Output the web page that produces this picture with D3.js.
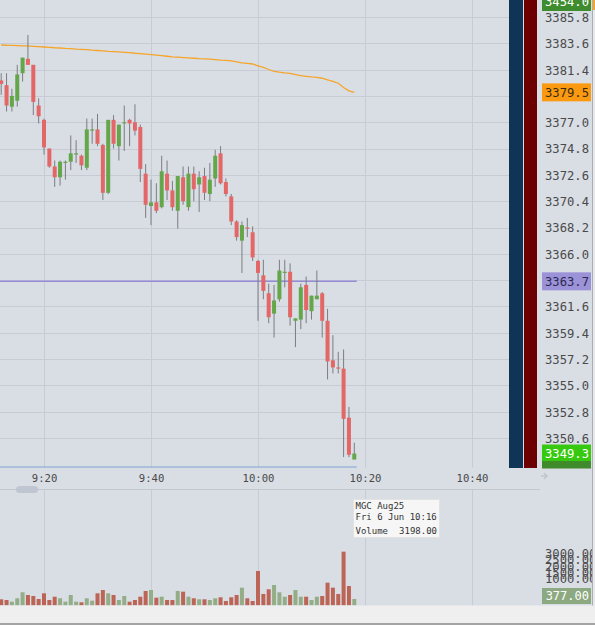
<!DOCTYPE html>
<html><head><meta charset="utf-8">
<script src="https://cdn.jsdelivr.net/npm/d3@7/dist/d3.min.js"></script>
<style>
html,body{margin:0;padding:0;background:#d9dde4;overflow:hidden}
svg{display:block}
text{font-family:"DejaVu Sans Mono",monospace}
</style></head><body>
<svg id="c" width="595" height="625"></svg>
<script>
// ---------- data ----------
const times = ["09:12","09:13","09:14","09:15","09:16","09:17","09:18","09:19","09:20","09:21",
"09:22","09:23","09:24","09:25","09:26","09:27","09:28","09:29","09:30","09:31",
"09:32","09:33","09:34","09:35","09:36","09:37","09:38","09:39","09:40","09:41",
"09:42","09:43","09:44","09:45","09:46","09:47","09:48","09:49","09:50","09:51",
"09:52","09:53","09:54","09:55","09:56","09:57","09:58","09:59","10:00","10:01",
"10:02","10:03","10:04","10:05","10:06","10:07","10:08","10:09","10:10","10:11",
"10:12","10:13","10:14","10:15","10:16","10:17","10:18"];
const open = [3380.5,3380.1,3378.3,3378.8,3381.1,3382.3,3381.8,3378.4,3377.2,3374.8,
3373.3,3372.4,3373.6,3373.7,3374.4,3374.2,3373.2,3376.4,3376.4,3375.1,
3371.1,3377.2,3375.0,3376.9,3377.2,3377.0,3376.6,3372.7,3370.0,3370.3,
3369.9,3372.7,3371.3,3369.6,3372.4,3369.9,3372.7,3371.8,3372.5,3371.0,
3372.3,3374.4,3372.0,3370.8,3368.7,3367.1,3368.2,3367.8,3365.4,3364.2,
3362.7,3361.0,3362.2,3364.5,3364.5,3360.4,3360.5,3363.4,3361.2,3362.2,
3362.7,3360.4,3357.1,3356.5,3356.4,3352.3,3348.8];
const high = [3381.1,3381.1,3379.8,3381.8,3382.4,3384.3,3381.8,3379.0,3377.3,3374.8,
3373.8,3373.8,3373.8,3375.9,3375.5,3374.3,3377.3,3377.3,3377.7,3375.2,
3377.2,3377.6,3376.8,3378.4,3377.3,3378.5,3376.8,3373.5,3372.2,3371.9,
3374.2,3373.8,3372.1,3372.5,3373.3,3373.3,3373.3,3372.9,3373.2,3373.6,
3374.7,3375.0,3372.3,3371.0,3368.8,3368.7,3369.0,3368.3,3365.5,3365.5,
3363.5,3363.4,3365.5,3365.5,3365.2,3360.6,3363.5,3364.1,3362.5,3364.6,
3362.8,3361.4,3359.2,3357.8,3358.0,3353.2,3350.2];
const low = [3379.3,3377.9,3377.9,3378.3,3380.4,3381.8,3377.6,3376.9,3374.3,3373.2,
3371.6,3371.7,3372.2,3373.0,3373.6,3373.0,3373.0,3375.2,3375.0,3370.5,
3371.0,3374.8,3373.8,3374.6,3375.0,3375.9,3372.0,3369.0,3368.4,3369.4,
3369.8,3370.5,3369.6,3368.1,3370.1,3369.6,3370.4,3369.5,3370.5,3370.4,
3371.6,3371.8,3370.8,3368.4,3367.1,3364.4,3367.4,3365.4,3360.4,3362.2,
3360.2,3359.0,3362.0,3363.2,3360.0,3358.2,3359.7,3360.2,3360.5,3362.2,
3359.0,3355.5,3356.0,3356.0,3349.0,3349.0,3348.8];
const close = [3380.2,3378.4,3379.2,3381.0,3382.4,3381.8,3378.7,3377.5,3374.9,3373.3,
3372.4,3373.7,3373.7,3374.4,3374.4,3373.4,3376.4,3376.4,3375.2,3371.1,
3377.2,3375.2,3376.8,3377.0,3376.9,3376.3,3373.1,3370.1,3370.3,3369.6,
3372.9,3371.3,3369.9,3372.5,3370.4,3372.7,3371.4,3372.4,3371.1,3372.2,
3374.2,3371.9,3371.0,3368.7,3367.4,3368.4,3368.1,3365.7,3364.4,3362.9,
3360.7,3362.1,3364.6,3364.5,3360.7,3360.6,3363.2,3361.3,3362.5,3362.5,
3360.4,3357.0,3356.5,3356.4,3352.2,3349.2,3349.3];
const volume = [358,316,215,418,776,615,555,376,716,316,
513,418,215,615,215,179,418,275,716,913,
716,615,316,555,215,316,513,854,913,454,
513,316,316,854,812,513,418,358,358,316,
418,478,257,478,615,1051,418,257,2048,675,
955,1212,776,513,615,913,513,513,316,513,
555,1349,1051,675,3198,1152,377];
const vwap = [3383.46,3383.44,3383.43,3383.41,3383.39,3383.38,3383.35,3383.32,3383.29,3383.26,
3383.23,3383.21,3383.18,3383.16,3383.12,3383.10,3383.07,3383.03,3383.00,3382.97,
3382.93,3382.91,3382.88,3382.85,3382.82,3382.77,3382.74,3382.70,3382.66,3382.61,
3382.57,3382.52,3382.47,3382.44,3382.41,3382.38,3382.35,3382.32,3382.30,3382.27,
3382.24,3382.20,3382.17,3382.14,3382.05,3381.97,3381.92,3381.87,3381.72,3381.58,
3381.41,3381.26,3381.19,3381.13,3381.09,3380.99,3380.89,3380.84,3380.79,3380.75,
3380.68,3380.55,3380.42,3380.26,3379.91,3379.63,3379.50];
const priceTicks = [3385.8,3383.6,3381.4,3379.2,3377.0,3374.8,3372.6,3370.4,3368.2,3366.0,
3363.8,3361.6,3359.4,3357.2,3355.0,3352.8,3350.6];
const timeTicks = ["09:20","09:40","10:00","10:20","10:40"];
const volumeTicks = [3000,2500,2000,1500,1000];
const levelLine = 3363.7;       // horizontal purple level
const topLabel = 3454.0;        // off-scale label pinned at top
const bidLabel = 3349.1;        // partially hidden label under last price
const instrument = "MGC Aug25";
const tooltipIndex = 64;

// ---------- helpers ----------
const day = "2025-06-06T";
const parse = d3.timeParse("%Y-%m-%dT%H:%M");
const T = s => parse(day + s);
const data = times.map((t,i)=>({t:T(t),o:open[i],h:high[i],l:low[i],c:close[i],v:volume[i],w:vwap[i]}));

const svg = d3.select("#c");
const W = 595, H = 625;
const plotRight = 509, mainBottom = 467.5, volTop = 489.5, volBottom = 605.3;

const x = d3.scaleTime().domain([T("09:20"), T("10:40")]).range([44, 472]);
const y = d3.scaleLinear().domain([3350.6, 3385.8]).range([438, 17]);
const yv = d3.scaleLinear().domain([0, 3198]).range([volBottom, 551.7]);
const yvAxis = d3.scaleLinear().domain([1000, 3000]).range([579, 553.3]);

const BG = "#d9dde4", GRID = "#c6cbd6";
const UP = "#64a64a", DOWN = "#e46767", WICK = "#7b7d80";
const VUP = "#93ae87", VDOWN = "#bc6556";

svg.append("rect").attr("width",W).attr("height",H).attr("fill",BG);

// ---------- grid ----------
const grid = svg.append("g");
grid.selectAll("line.h").data(priceTicks).join("line")
  .attr("x1",0).attr("x2",plotRight)
  .attr("y1",d=>Math.round(y(d))+0.5).attr("y2",d=>Math.round(y(d))+0.5)
  .attr("stroke",GRID).attr("stroke-width",1);
const tt = timeTicks.map(T);
grid.selectAll("line.v1").data(tt).join("line")
  .attr("x1",d=>Math.round(x(d))+0.5).attr("x2",d=>Math.round(x(d))+0.5)
  .attr("y1",0).attr("y2",mainBottom).attr("stroke",GRID);
grid.selectAll("line.v2").data(tt).join("line")
  .attr("x1",d=>Math.round(x(d))+0.5).attr("x2",d=>Math.round(x(d))+0.5)
  .attr("y1",volTop).attr("y2",volBottom).attr("stroke",GRID);

// ---------- time axis ----------
const xAxis = d3.axisBottom(x).tickValues(tt).tickFormat(d3.timeFormat("%-H:%M")).tickSize(0).tickPadding(0);
const xg = svg.append("g").attr("transform","translate(0,474)").call(xAxis);
xg.select(".domain").remove();
xg.selectAll("text").attr("font-family","DejaVu Sans Mono").attr("font-size","10.6px")
  .attr("fill","#4a4a4a").attr("dy","0.71em");
svg.append("line").attr("x1",0).attr("x2",540).attr("y1",volTop).attr("y2",volTop)
  .attr("stroke","#c2c7d1");
svg.append("rect").attr("x",16).attr("y",486).attr("width",22).attr("height",7).attr("rx",3.5)
  .attr("fill","#bfc6d2");
// arrow
svg.append("path").attr("d","M541,476 H547 M544,473 L547,476 L544,479")
  .attr("stroke","#c0c5ce").attr("stroke-width",1.6).attr("fill","none");

// ---------- main plot ----------
const lastX = x(data[data.length-1].t) + 2.5;
svg.append("line").attr("x1",0).attr("x2",lastX).attr("y1",y(levelLine)).attr("y2",y(levelLine))
  .attr("stroke","#968cd4").attr("stroke-width",1.5);
svg.append("path").datum(data)
  .attr("d", d3.line().x(d=>x(d.t)).y(d=>y(d.w)))
  .attr("fill","none").attr("stroke","#f5a52a").attr("stroke-width",1.3);

const bw = 4;
const cg = svg.append("g");
cg.selectAll("line.wick").data(data).join("line")
  .attr("x1",d=>x(d.t)).attr("x2",d=>x(d.t))
  .attr("y1",d=>y(d.h)).attr("y2",d=>y(d.l))
  .attr("stroke",WICK).attr("stroke-width",1);
cg.selectAll("rect.body").data(data).join("rect")
  .attr("x",d=>x(d.t)-bw/2).attr("width",bw)
  .attr("y",d=>y(Math.max(d.o,d.c)))
  .attr("height",d=>Math.max(1.2, Math.abs(y(d.o)-y(d.c))))
  .attr("fill",d=>d.c>=d.o?UP:DOWN);

svg.append("line").attr("x1",0).attr("x2",lastX).attr("y1",mainBottom-0.5).attr("y2",mainBottom-0.5)
  .attr("stroke","#7fa4d4").attr("stroke-width",1);

// ---------- volume ----------
svg.append("g").selectAll("rect").data(data).join("rect")
  .attr("x",d=>x(d.t)-bw/2).attr("width",bw)
  .attr("y",d=>yv(d.v)).attr("height",d=>volBottom-yv(d.v))
  .attr("fill",d=>d.c>=d.o?VUP:VDOWN);

// ---------- side bars ----------
svg.append("rect").attr("x",509).attr("y",0).attr("width",14).attr("height",468).attr("fill","#0f3456");
svg.append("rect").attr("x",524).attr("y",0).attr("width",13).attr("height",468).attr("fill","#6c0000");

// ---------- price axis ----------
const defs = svg.append("defs");
defs.append("clipPath").attr("id","pclip").append("rect")
  .attr("x",537).attr("y",0).attr("width",58).attr("height",468.5);
defs.append("clipPath").attr("id","bclip").append("rect")
  .attr("x",537).attr("y",461).attr("width",58).attr("height",3.6);
const pa = svg.append("g").attr("clip-path","url(#pclip)");
const lastClose = close[close.length-1];
const lastVwap = vwap[vwap.length-1];
const tagged = [lastVwap, levelLine, lastClose];
// tick labels that sit under a coloured tag are covered in the reference; leave them out
const visibleTicks = priceTicks.filter(t => tagged.every(v => Math.abs(y(v)-y(t)) > 8));
const yAxis = d3.axisRight(y).tickValues(visibleTicks).tickFormat(d3.format(".1f")).tickSize(0).tickPadding(0);
const yg = pa.append("g").attr("transform","translate(589,0)").call(yAxis);
yg.select(".domain").remove();
yg.selectAll("text").attr("text-anchor","end").attr("font-family","DejaVu Sans Mono")
  .attr("font-size","12.2px").attr("fill","#4a4a4a").attr("dy","0.36em");

function tag(g, cy, val, fill, txt, textClip){
  g.append("rect").attr("x",542).attr("y",cy-9).attr("width",49).attr("height",18).attr("fill",fill);
  const t = g.append("text").attr("x",589).attr("y",cy).attr("dy","0.36em").attr("text-anchor","end")
    .attr("font-size","12.2px").attr("fill",txt).text(d3.format(".1f")(val));
  if (textClip) t.attr("clip-path", textClip);
}
tag(pa, y(lastVwap), lastVwap, "#fb9a10", "#3a2a10");
tag(pa, y(levelLine), levelLine, "#9c92d8", "#2a2850");
tag(pa, 2, topLabel, "#3f8c2e", "#ffffff");
tag(pa, y(lastClose), lastClose, "#36c90f", "#ffffff");
tag(pa, y(lastClose)+16.5, bidLabel, "#3f8a2a", "#eaffea", "url(#bclip)");

// ---------- volume axis ----------
svg.append("g").selectAll("text").data(volumeTicks).join("text")
  .attr("x",545).attr("y",d=>yvAxis(d)).attr("dy","0.36em")
  .attr("font-size","12.2px").attr("fill","#4a4a4a").text(d=>d3.format(".2f")(d));
const lastVol = volume[volume.length-1];
svg.append("rect").attr("x",542).attr("y",588).attr("width",49).attr("height",16).attr("fill","#8da981");
svg.append("text").attr("x",589).attr("y",596).attr("dy","0.36em").attr("text-anchor","end")
  .attr("font-size","12px").attr("fill","#ffffff").text(d3.format(".2f")(lastVol));

// ---------- bottom band & right edge ----------
svg.append("rect").attr("x",0).attr("y",605.5).attr("width",W).attr("height",18).attr("fill","#efefef");
svg.append("rect").attr("x",0).attr("y",623).attr("width",W).attr("height",2).attr("fill","#a4a4a4");
svg.append("rect").attr("x",592).attr("y",0).attr("width",3).attr("height",605.5).attr("fill","#e6e8ec");
svg.append("line").attr("x1",592.5).attr("x2",592.5).attr("y1",0).attr("y2",605.5).attr("stroke","#a9adb4");
svg.append("rect").attr("x",593).attr("y",0).attr("width",2).attr("height",10).attr("fill","#f5a52a");

// ---------- tooltip ----------
const td = data[tooltipIndex];
const tip = svg.append("g");
tip.append("rect").attr("x",353.5).attr("y",499.5).attr("width",86).attr("height",38)
  .attr("fill","#f6f6f6").attr("stroke","#e2e2e2");
const tf = d3.timeFormat("%a %-d %b %H:%M");
const fs = "9px";
tip.append("text").attr("x",355.5).attr("y",508.5).attr("font-size",fs).attr("fill","#333").text(instrument);
tip.append("text").attr("x",355.5).attr("y",519.5).attr("font-size",fs).attr("fill","#333").text(tf(td.t));
tip.append("text").attr("x",355.5).attr("y",534).attr("font-size",fs).attr("fill","#333").text("Volume");
tip.append("text").attr("x",437).attr("y",534).attr("text-anchor","end").attr("font-size",fs).attr("fill","#333")
  .text(d3.format(".2f")(td.v));
</script>
</body></html>
